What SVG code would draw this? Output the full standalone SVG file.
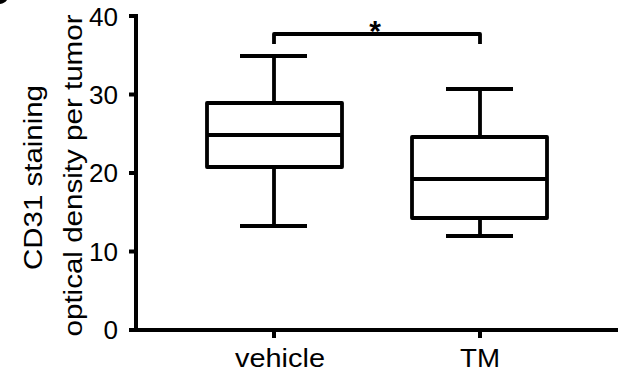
<svg xmlns="http://www.w3.org/2000/svg" width="626" height="377" viewBox="0 0 626 377">
<style>
.ax{fill:none;stroke:#000;stroke-width:4;stroke-linecap:butt}
.bx{fill:none;stroke:#000;stroke-width:3.8;stroke-linejoin:round;stroke-linecap:butt}
text{font-family:"Liberation Sans",Arial,sans-serif;fill:#000}
.tk{font-size:25px;text-anchor:end}
.xl{font-size:25px;text-anchor:middle}
.yl{font-size:26px;text-anchor:middle}
</style>
<rect width="626" height="377" fill="#fff"/>
<path d="M0,0 H7 Q5,3 0,4 Z" fill="#000"/>
<g id="axes">
<path class="ax" d="M136,14 V332 M134,330 H618"/>
<path class="ax" d="M129,16 H136 M129,94.5 H136 M129,173 H136 M129,251.5 H136 M129,330 H136"/>
<path class="ax" d="M274,330 V338 M480,330 V338"/>
<text class="tk" x="118" y="26" textLength="29" lengthAdjust="spacingAndGlyphs">40</text>
<text class="tk" x="118" y="104" textLength="29" lengthAdjust="spacingAndGlyphs">30</text>
<text class="tk" x="118" y="182" textLength="29" lengthAdjust="spacingAndGlyphs">20</text>
<text class="tk" x="118" y="261" textLength="29" lengthAdjust="spacingAndGlyphs">10</text>
<text class="tk" x="118" y="339" textLength="14.5" lengthAdjust="spacingAndGlyphs">0</text>
<text class="xl" x="280" y="367" textLength="90" lengthAdjust="spacingAndGlyphs">vehicle</text>
<text class="xl" x="480" y="367" textLength="40" lengthAdjust="spacingAndGlyphs">TM</text>
<text class="yl" transform="translate(41.5,177.5) rotate(-90)" textLength="185" lengthAdjust="spacingAndGlyphs">CD31 staining</text>
<text class="yl" transform="translate(81.5,175.5) rotate(-90)" textLength="322" lengthAdjust="spacingAndGlyphs">optical density per tumor</text>
</g>
<g id="vehicle">
<rect class="bx" x="207" y="103" width="135" height="64"/>
<path class="bx" d="M207,135 H342 M274,103 V56 M240,56 H307 M274,167 V226 M240,226 H307"/>
</g>
<g id="TM">
<rect class="bx" x="412" y="137" width="135" height="81"/>
<path class="bx" d="M412,179 H547 M480,137 V89 M446,89 H513 M480,218 V236 M446,236 H513"/>
</g>
<g id="connectors">
<path class="bx" d="M274,44 V34 H480 V44"/>
<text x="375" y="41" font-size="30" font-weight="bold" text-anchor="middle">*</text>
</g>
</svg>
